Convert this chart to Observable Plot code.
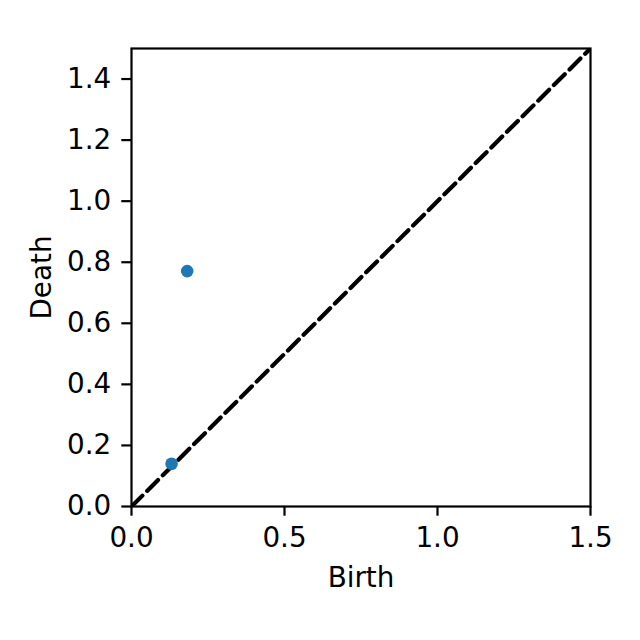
<!DOCTYPE html>
<html>
<head>
<meta charset="utf-8">
<script src="https://cdn.jsdelivr.net/npm/d3@7"></script>
<script src="https://cdn.jsdelivr.net/npm/@observablehq/plot@0.6"></script>
<style>
  html, body { margin: 0; padding: 0; background: #fff; }
  #chart svg { display: block; }
</style>
</head>
<body>
<div id="chart"></div>
<script>
const births = [0.182, 0.131];
const deaths = [0.771, 0.140];
const domainLimits = [0, 1.5];
const xTicks = [0.0, 0.5, 1.0, 1.5];
const yTicks = [0.0, 0.2, 0.4, 0.6, 0.8, 1.0, 1.2, 1.4];

const points = births.map((b, i) => ({birth: b, death: deaths[i]}));
const diagonal = domainLimits.map(v => ({birth: v, death: v}));
const fs = 27.8;

const chart = Plot.plot({
  width: 640,
  height: 640,
  marginLeft: 131,
  marginRight: 50,
  marginTop: 48,
  marginBottom: 134,
  style: {fontFamily: "DejaVu Sans", fontSize: fs + "px", color: "#000", background: "#fff"},
  x: {domain: domainLimits, ticks: xTicks, tickFormat: d3.format(".1f"), label: null},
  y: {domain: domainLimits, ticks: yTicks, tickFormat: d3.format(".1f"), label: null},
  marks: [
    Plot.line(diagonal, {x: "birth", y: "death", stroke: "#000", strokeWidth: 4.2, strokeDasharray: "15.4,6.7", clip: true}),
    Plot.dot(points, {x: "birth", y: "death", r: 6.3, fill: "#1f77b4", stroke: "none"}),
    Plot.frame({stroke: "#000", strokeWidth: 2.2}),
    Plot.axisX({ticks: xTicks, tickFormat: d3.format(".1f"), tickSize: 9.7, tickPadding: 11.3, strokeWidth: 2.2, fontSize: fs, label: null}),
    Plot.axisY({ticks: yTicks, tickFormat: d3.format(".1f"), tickSize: 9.7, tickPadding: 10.6, strokeWidth: 2.2, fontSize: fs, label: null}),
    Plot.text(["Birth"], {frameAnchor: "bottom", dy: 80, fontSize: fs, fill: "#000"}),
    Plot.text(["Death"], {frameAnchor: "left", textAnchor: "middle", dx: -89.5, rotate: -90, fontSize: fs, fill: "#000"})
  ]
});
document.getElementById("chart").appendChild(chart);
</script>
</body>
</html>
